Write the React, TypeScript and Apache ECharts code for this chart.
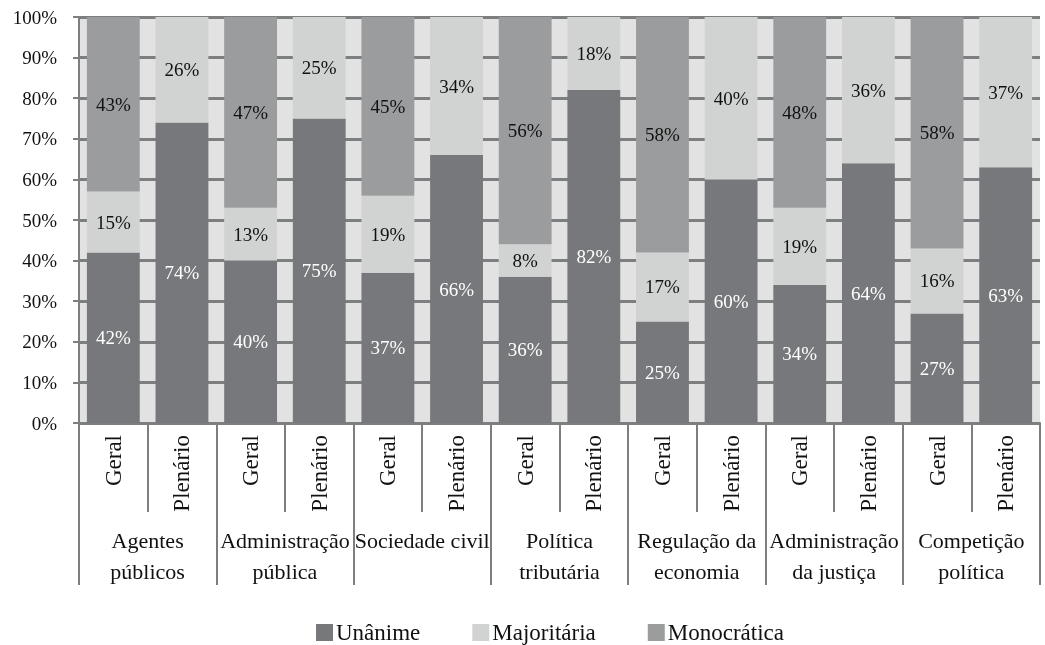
import React, { useEffect, useRef } from "react";
import * as echarts from "echarts";

const barLabels = ["Geral", "Plenário", "Geral", "Plenário", "Geral", "Plenário", "Geral", "Plenário", "Geral", "Plenário", "Geral", "Plenário", "Geral", "Plenário"];
const groupLabels = ["Agentes\npúblicos", "Administração\npública", "Sociedade civil", "Política\ntributária", "Regulação da\neconomia", "Administração\nda justiça", "Competição\npolítica"];
const unanime = [42, 74, 40, 75, 37, 66, 36, 82, 25, 60, 34, 64, 27, 63];
const majoritaria = [15, 26, 13, 25, 19, 34, 8, 18, 17, 40, 19, 36, 16, 37];
const monocratica = [43, 0, 47, 0, 45, 0, 56, 0, 58, 0, 48, 0, 58, 0];

const FONT = "Liberation Serif";
const GRID = "#7c7e80";

export default function App() {
  const ref = useRef<HTMLDivElement>(null);
  useEffect(() => {
    const chart = echarts.init(ref.current!, null, { renderer: "svg" });
    const mkLabel = (color: string) => ({
      show: true,
      position: "inside",
      color,
      fontFamily: FONT,
      fontSize: 19,
      formatter: (p: any) => (p.value ? p.value + "%" : ""),
    });
    chart.setOption({
      animation: false,
      textStyle: { fontFamily: FONT },
      grid: {
        left: 79,
        right: 5,
        top: 17,
        bottom: 222,
        show: true,
        backgroundColor: "#e2e2e2",
        borderWidth: 0,
      },
      legend: {
        top: 616,
        left: 311,
        itemWidth: 17,
        itemHeight: 17,
        itemGap: 52,
        icon: "rect",
        textStyle: { fontFamily: FONT, fontSize: 23, color: "#111", padding: [0, 0, 0, -2] },
        data: ["Unânime", "Majoritária", "Monocrática"],
      },
      xAxis: [
        {
          type: "category",
          data: barLabels,
          axisLine: { show: true, lineStyle: { color: GRID, width: 2 } },
          axisTick: { show: true, length: 89, interval: 0, lineStyle: { color: GRID, width: 2 } },
          axisLabel: {
            rotate: 90,
            interval: 0,
            margin: 12,
            fontFamily: FONT,
            fontSize: 23,
            color: "#111",
          },
        },
        {
          type: "category",
          data: groupLabels,
          position: "bottom",
          axisLine: { show: false },
          axisTick: { show: true, length: 162, interval: 0, lineStyle: { color: GRID, width: 2 } },
          axisLabel: {
            interval: 0,
            margin: 102,
            fontFamily: FONT,
            fontSize: 22,
            lineHeight: 31,
            color: "#111",
          },
        },
      ],
      yAxis: {
        type: "value",
        min: 0,
        max: 100,
        interval: 10,
        axisLine: { show: true, lineStyle: { color: GRID, width: 2 } },
        axisTick: { show: true, length: 6, lineStyle: { color: GRID, width: 2 } },
        axisLabel: {
          formatter: "{value}%",
          fontFamily: FONT,
          fontSize: 19,
          color: "#111",
          margin: 22,
        },
        splitLine: { show: true, lineStyle: { color: GRID, width: 3 } },
      },
      series: [
        {
          name: "Unânime",
          type: "bar",
          stack: "total",
          barCategoryGap: "23%",
          data: unanime,
          itemStyle: { color: "#76787b" },
          label: mkLabel("#ffffff"),
        },
        {
          name: "Majoritária",
          type: "bar",
          stack: "total",
          data: majoritaria,
          itemStyle: { color: "#d1d3d3" },
          label: mkLabel("#111111"),
        },
        {
          name: "Monocrática",
          type: "bar",
          stack: "total",
          data: monocratica,
          itemStyle: { color: "#9a9c9e" },
          label: mkLabel("#111111"),
        },
      ],
    });
    return () => chart.dispose();
  }, []);
  return (
    <div
      ref={ref}
      style={{ position: "fixed", left: 0, top: 0, width: 1045, height: 645 }}
    />
  );
}
